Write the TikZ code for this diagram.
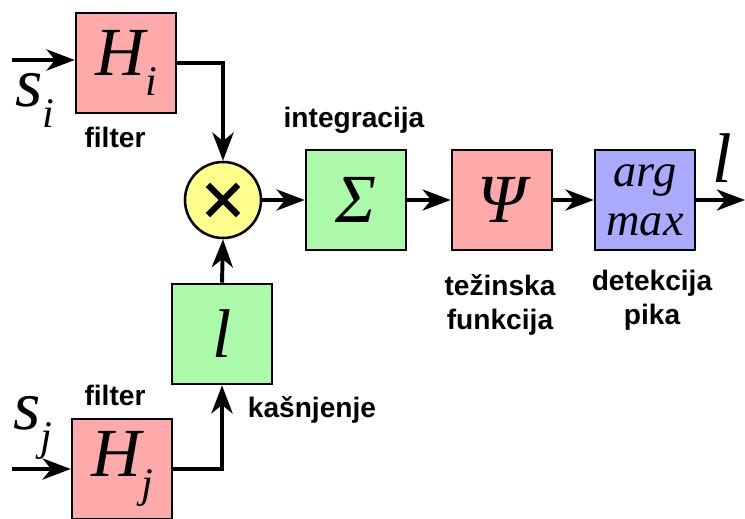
\documentclass[tikz,border=0pt]{standalone}
\usepackage{fontspec}
\setmainfont{Liberation Serif}
\setsansfont{Liberation Sans}
\usepackage{tikz}
\usetikzlibrary{
  arrows.meta,
  positioning
}
\definecolor{filtercolor}{RGB}{255, 170, 170}
\definecolor{sumcolor}{RGB}{170, 250, 170}
\definecolor{peakcolor}{RGB}{170, 170, 255}
\definecolor{multcolor}{RGB}{255, 255, 140}
\definecolor{linecolor}{RGB}{0, 0, 0}
\newcommand{\symtext}[1]{\fontsize{49}{52}\selectfont\itshape #1}
\newcommand{\subtext}[1]{\raisebox{-0.3em}{\fontsize{30}{30}\selectfont\itshape #1}}
\tikzset{
blockbox/.style={
  draw=linecolor,
  line width=1.8pt,
  minimum width=2.5cm,
  minimum height=2.5cm,
  inner sep=0pt,
  align=center
},
filterblock/.style={
  blockbox,
  fill=filtercolor
},
sumblock/.style={
  blockbox,
  fill=sumcolor
},
peakblock/.style={
  blockbox,
  fill=peakcolor,
  font=\fontsize{33}{35}\selectfont\itshape
},
multnode/.style={
  circle,
  draw=linecolor,
  line width=1.8pt,
  fill=multcolor,
  minimum size=1.9cm,
  inner sep=0pt
},
crossline/.style={
  line width=4.5pt,
  draw=linecolor,
  shorten >=0.45cm,
  shorten <=0.45cm
},
labeltext/.style={
  font=\sffamily\bfseries\fontsize{20}{24}\selectfont,
  align=center
},
signaltext/.style={
  font=\fontsize{50}{52}\selectfont\itshape,
  inner sep=0pt
},
arrow/.style={
  -{Stealth[length=20pt,width=15pt,inset=6pt]},
  line width=2.8pt,
  draw=linecolor
}
}

\begin{document}
\begin{tikzpicture}[x=0.025cm, y=-0.025cm]
  \useasboundingbox (0,0) rectangle (745,519);

  % blocks
  \node[filterblock] (Hi) at (126,63) {\symtext{H}\subtext{i}};
  \node[filterblock] (Hj) at (122,469) {\symtext{H}\subtext{j}};
  \node[sumblock] (delay) at (222,334) {\symtext{l}};
  \node[multnode] (mult) at (223,200) {};
  \node[sumblock] (sum) at (356,200) {\symtext{Σ}};
  \node[filterblock] (psi) at (502,200) {\symtext{Ψ}};
  \node[peakblock] (argmax) at (645,200) {arg\\max};

  \draw[crossline] (mult.135) -- (mult.-45);
  \draw[crossline] (mult.45) -- (mult.-135);

  % signals
  \coordinate (si) at (12,60);
  \coordinate (sj) at (12,469);
  \coordinate (out) at (745,200);
  \node[signaltext] (silabel) at (35,100) {s\subtext{i}};
  \node[signaltext] (sjlabel) at (33,428) {s\subtext{j}};
  \node[signaltext] (outlabel) at (722,158) {l};

  % labels
  \node[labeltext] (filteri) at (115,137) {filter};
  \node[labeltext] (filterj) at (115,395) {filter};
  \node[labeltext] (integr) at (354,120) {integracija};
  \node[labeltext] (weight) at (500,305) {težinska\\funkcija};
  \node[labeltext] (detect) at (652,300) {detekcija\\pika};
  \node[labeltext] (lag) at (312,410) {kašnjenje};

  % connectors
  \draw[arrow] (si) -- (si -| Hi.west);
  \draw[arrow] (sj) -- (Hj.west);
  \draw[arrow] (Hi.east) -| (mult.north);
  \draw[arrow] (Hj.east) -| (delay.south);
  \draw[arrow] (delay.north) -- (mult.south);
  \draw[arrow] (mult.east) -- (sum.west);
  \draw[arrow] (sum.east) -- (psi.west);
  \draw[arrow] (psi.east) -- (argmax.west);
  \draw[arrow] (argmax.east) -- (out);
\end{tikzpicture}
\end{document}
